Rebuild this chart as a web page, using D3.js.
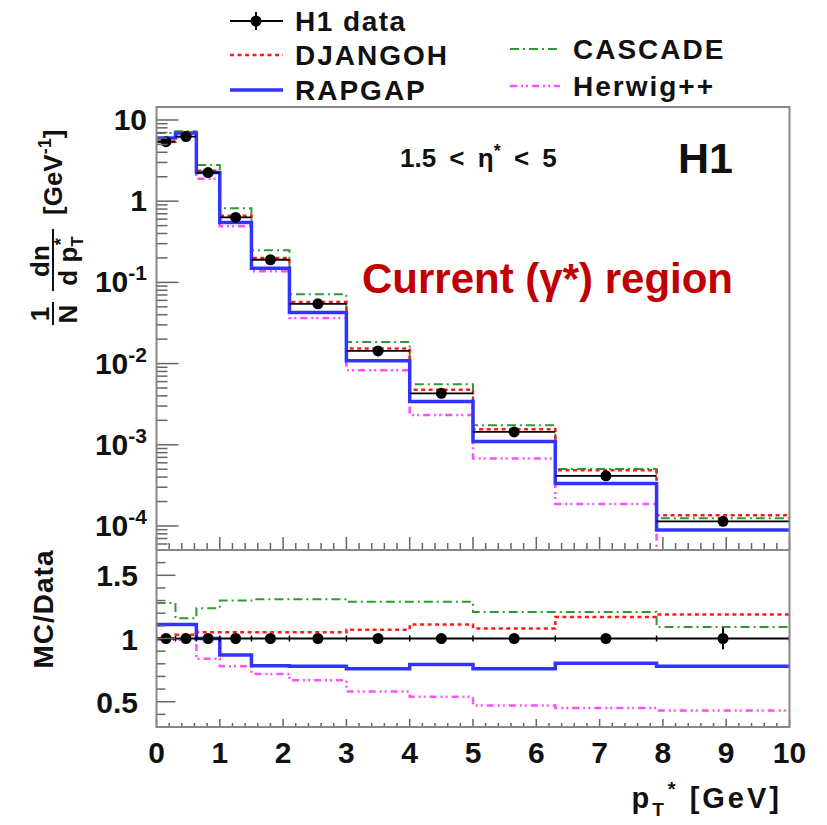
<!DOCTYPE html>
<html>
<head>
<meta charset="utf-8">
<script src="https://cdn.jsdelivr.net/npm/d3@7"></script>
<style>
body { margin: 0; background: #fff; }
svg text { font-family: "Liberation Sans", Arial, sans-serif; font-weight: bold; fill: #111; }
</style>
</head>
<body>
<script>
// pT* bin edges [GeV]
var binEdges = [0, 0.3, 0.63, 1.0, 1.5, 2.1, 3.0, 4.0, 5.0, 6.3, 7.9, 10]
// H1 data, 1/N dn/dpT* [GeV^-1]
var h1Data = [5.4, 6.25, 2.25, 0.63, 0.19, 0.0545, 0.0143, 0.0043, 0.00144, 0.000415, 0.000114]
var h1RatioErr = [0.01, 0.01, 0.01, 0.01, 0.01, 0.01, 0.015, 0.02, 0.02, 0.03, 0.085]
// MC / data
var djangohRatio = [1.0, 1.03, 1.05, 1.05, 1.05, 1.05, 1.07, 1.11, 1.08, 1.17, 1.19]
var rapgapRatio = [1.11, 1.11, 1.0, 0.87, 0.785, 0.78, 0.76, 0.795, 0.76, 0.805, 0.78]
var cascadeRatio = [1.28, 1.16, 1.24, 1.30, 1.31, 1.31, 1.29, 1.29, 1.21, 1.21, 1.09]
var herwigRatio = [0.99, 0.99, 0.84, 0.78, 0.72, 0.67, 0.58, 0.54, 0.47, 0.45, 0.43]

var xTicks = [0, 1, 2, 3, 4, 5, 6, 7, 8, 9, 10]
var ratioTicks = [0.5, 1, 1.5]
var decadeExps = [-4, -3, -2, -1, 0, 1]

var series = [
    {name: "Herwig++", ratio: herwigRatio, color: "#ff4dff", width: 2.5, dash: "7,4,2,3,2,4"},
    {name: "CASCADE", ratio: cascadeRatio, color: "#2f9a2f", width: 2, dash: "9,4,2,4"},
    {name: "DJANGOH", ratio: djangohRatio, color: "#ff1a1a", width: 2.5, dash: "4,3.5"},
    {name: "RAPGAP", ratio: rapgapRatio, color: "#3333ff", width: 3.5, dash: null}
]

var width = 827, height = 825
var svg = d3.select("body").append("svg")
    .attr("width", width)
    .attr("height", height)

var x = d3.scaleLinear().domain([0, 10]).range([156.5, 789.5])
var yTop = d3.scaleLog().domain([5.06e-5, 14.45]).range([550, 107])
var yRat = d3.scaleLinear().domain([0.3, 1.7]).range([727, 550])

var defs = svg.append("defs")
defs.append("clipPath").attr("id", "clip-top").append("rect")
    .attr("x", x(0)).attr("y", 107).attr("width", x(10) - x(0)).attr("height", 443)
defs.append("clipPath").attr("id", "clip-rat").append("rect")
    .attr("x", x(0)).attr("y", 550).attr("width", x(10) - x(0)).attr("height", 177)

function stepPoints(vals) {
    var pts = vals.map((v, i) => [binEdges[i], v])
    pts.push([binEdges[vals.length], vals[vals.length - 1]])
    return pts
}

function drawPanel(g, yScale, valuesOf) {
    var line = d3.line()
        .x(d => x(d[0]))
        .y(d => yScale(d[1]))
        .curve(d3.curveStepAfter)
    series.forEach(s => {
        g.append("path")
            .attr("d", line(stepPoints(valuesOf(s))))
            .attr("fill", "none")
            .attr("stroke", s.color)
            .attr("stroke-width", s.width)
            .attr("stroke-dasharray", s.dash)
    })
}

// ---- top panel
var topPanel = svg.append("g").attr("clip-path", "url(#clip-top)")
drawPanel(topPanel, yTop, s => s.ratio.map((r, i) => r * h1Data[i]))
h1Data.forEach((v, i) => {
    topPanel.append("line")
        .attr("x1", x(binEdges[i])).attr("x2", x(binEdges[i + 1]))
        .attr("y1", yTop(v)).attr("y2", yTop(v))
        .attr("stroke", "#000").attr("stroke-width", 1.8)
    topPanel.append("circle")
        .attr("cx", x((binEdges[i] + binEdges[i + 1]) / 2))
        .attr("cy", yTop(v))
        .attr("r", 5.5)
        .attr("fill", "#000")
})

// ---- ratio panel
var ratPanel = svg.append("g").attr("clip-path", "url(#clip-rat)")
drawPanel(ratPanel, yRat, s => s.ratio)
ratPanel.append("line")
    .attr("x1", x(0)).attr("x2", x(10))
    .attr("y1", yRat(1)).attr("y2", yRat(1))
    .attr("stroke", "#000").attr("stroke-width", 1.8)
binEdges.forEach(e => {
    ratPanel.append("line")
        .attr("x1", x(e)).attr("x2", x(e))
        .attr("y1", yRat(1) - 3).attr("y2", yRat(1) + 3)
        .attr("stroke", "#000").attr("stroke-width", 1.5)
})
h1RatioErr.forEach((err, i) => {
    var cx = x((binEdges[i] + binEdges[i + 1]) / 2)
    ratPanel.append("line")
        .attr("x1", cx).attr("x2", cx)
        .attr("y1", yRat(1 - err)).attr("y2", yRat(1 + err))
        .attr("stroke", "#000").attr("stroke-width", 2)
    ratPanel.append("circle")
        .attr("cx", cx).attr("cy", yRat(1)).attr("r", 5.5).attr("fill", "#000")
})

// ---- frames and ticks
var axes = svg.append("g")
    .attr("stroke", "#666")
    .attr("stroke-width", 1.5)

function tick(x1, y1, x2, y2) {
    axes.append("line").attr("x1", x1).attr("y1", y1).attr("x2", x2).attr("y2", y2)
}

// x ticks on both panels (pointing up from bottom frame)
d3.range(0, 10.001, 0.2).forEach(v => {
    var major = Math.abs(v - Math.round(v)) < 1e-6
    tick(x(v), 550, x(v), 550 - (major ? 13 : 7))
    tick(x(v), 727, x(v), 727 - (major ? 8 : 4))
})

// log y ticks on the top panel
var dom = yTop.domain()
d3.range(-5, 2).forEach(e => {
    d3.range(1, 10).forEach(m => {
        var v = m * Math.pow(10, e)
        if (v < dom[0] || v > dom[1]) return
        tick(x(0), yTop(v), x(0) + (m === 1 ? 22 : 11), yTop(v))
    })
})

// linear y ticks on the ratio panel
d3.range(3, 18).forEach(k => {
    var v = k / 10
    var major = k % 5 === 0
    tick(x(0), yRat(v), x(0) + (major ? 19 : 9), yRat(v))
})

svg.append("rect")
    .attr("x", x(0)).attr("y", 107)
    .attr("width", x(10) - x(0)).attr("height", 620)
    .attr("fill", "none").attr("stroke", "#888").attr("stroke-width", 2)
svg.append("line")
    .attr("x1", x(0)).attr("x2", x(10)).attr("y1", 550).attr("y2", 550)
    .attr("stroke", "#888").attr("stroke-width", 2)

// ---- tick labels
svg.append("g").selectAll("text")
    .data(xTicks).enter().append("text")
    .attr("x", d => x(d)).attr("y", 763)
    .attr("text-anchor", "middle")
    .attr("font-size", 30)
    .text(d => d)

decadeExps.forEach(e => {
    var t = svg.append("text")
        .attr("x", 147).attr("y", yTop(Math.pow(10, e)) + 10)
        .attr("text-anchor", "end")
        .attr("font-size", 30)
    if (e === 0) t.text("1")
    else if (e === 1) t.text("10")
    else {
        t.append("tspan").text("10")
        t.append("tspan").attr("font-size", 21).attr("dy", -12).text(e)
    }
})

svg.append("g").selectAll("text")
    .data(ratioTicks).enter().append("text")
    .attr("x", 138).attr("y", d => yRat(d) + 11)
    .attr("text-anchor", "end")
    .attr("font-size", 30)
    .text(d => d)

// ---- axis titles
var xt = svg.append("text")
    .attr("x", 782).attr("y", 808)
    .attr("text-anchor", "end")
    .attr("font-size", 29)
    .attr("letter-spacing", 3)
xt.append("tspan").text("p")
xt.append("tspan").attr("font-size", 19).attr("dy", 8).text("T")
xt.append("tspan").attr("font-size", 20).attr("dy", -20).attr("dx", 1).text("*")
xt.append("tspan").attr("dy", 12).text(" [GeV]")

svg.append("text")
    .attr("transform", "translate(53,609) rotate(-90)")
    .attr("text-anchor", "middle")
    .attr("font-size", 28)
    .attr("letter-spacing", 1)
    .text("MC/Data")

// 1/N dn/dpT* [GeV^-1], rotated
var yt = svg.append("g").attr("transform", "translate(53,327) rotate(-90)")
function frac(cx, x0, x1, num, denFn) {
    yt.append("line")
        .attr("x1", x0).attr("x2", x1).attr("y1", 0).attr("y2", 0)
        .attr("stroke", "#111").attr("stroke-width", 2)
    yt.append("text").attr("x", cx).attr("y", -4)
        .attr("text-anchor", "middle").attr("font-size", 26).text(num)
    denFn(yt.append("text").attr("x", cx).attr("y", 24)
        .attr("text-anchor", "middle").attr("font-size", 26))
}
frac(13, 2, 25, "1", t => t.text("N"))
frac(66, 36, 98, "dn", t => {
    t.append("tspan").text("d p")
    t.append("tspan").attr("font-size", 17).attr("dy", 6).text("T")
    t.append("tspan").attr("font-size", 18).attr("dx", -9).attr("dy", -16).text("*")
})
var gev = yt.append("text").attr("x", 112).attr("y", 9).attr("font-size", 26)
gev.append("tspan").text("[GeV")
gev.append("tspan").attr("font-size", 18).attr("dy", -11).text("-1")
gev.append("tspan").attr("dy", 11).text("]")

// ---- annotations
var eta = svg.append("text")
    .attr("x", 400).attr("y", 167)
    .attr("font-size", 26)
    .attr("word-spacing", 6)
eta.append("tspan").text("1.5 < η")
eta.append("tspan").attr("font-size", 18).attr("dy", -10).text("*")
eta.append("tspan").attr("dy", 10).text(" < 5")
svg.append("text")
    .attr("x", 678).attr("y", 173)
    .attr("font-size", 43)
    .text("H1")
svg.append("text")
    .attr("x", 362).attr("y", 293)
    .attr("font-size", 42)
    .style("fill", "#c00000")
    .text("Current (γ*) region")

// ---- legend
var legend = svg.append("g")
var leftRows = [21, 55, 90]
var rightRows = [49, 86]
legend.append("line")
    .attr("x1", 230).attr("x2", 283).attr("y1", leftRows[0]).attr("y2", leftRows[0])
    .attr("stroke", "#000").attr("stroke-width", 1.8)
legend.append("line")
    .attr("x1", 256).attr("x2", 256).attr("y1", leftRows[0] - 9).attr("y2", leftRows[0] + 9)
    .attr("stroke", "#000").attr("stroke-width", 2)
legend.append("circle").attr("cx", 256).attr("cy", leftRows[0]).attr("r", 5.5).attr("fill", "#000")
legend.append("text").attr("x", 295).attr("y", leftRows[0] + 10)
    .attr("font-size", 28).attr("letter-spacing", 1.5).text("H1 data")

var legendPos = {
    "DJANGOH": [230, 283, 295, leftRows[1]],
    "RAPGAP": [230, 283, 295, leftRows[2]],
    "CASCADE": [510, 560, 573, rightRows[0]],
    "Herwig++": [510, 560, 573, rightRows[1]]
}
series.forEach(s => {
    var p = legendPos[s.name]
    legend.append("line")
        .attr("x1", p[0]).attr("x2", p[1]).attr("y1", p[3]).attr("y2", p[3])
        .attr("stroke", s.color).attr("stroke-width", s.width)
        .attr("stroke-dasharray", s.dash)
    legend.append("text").attr("x", p[2]).attr("y", p[3] + 10)
        .attr("font-size", 28).attr("letter-spacing", 2).text(s.name)
})
</script>
</body>
</html>
